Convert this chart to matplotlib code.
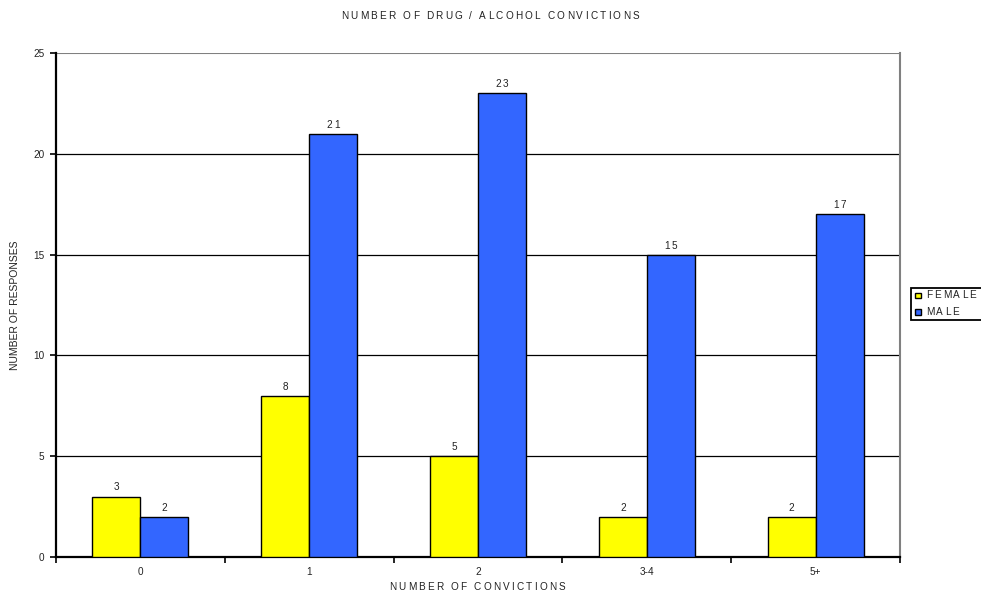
import numpy as np
import matplotlib
matplotlib.use("Agg")
import matplotlib.pyplot as plt
from matplotlib.patches import Rectangle
from matplotlib.font_manager import FontProperties, findfont, get_font

categories = ["0", "1", "2", "3-4", "5+"]
female = [3, 8, 5, 2, 2]
male = [2, 21, 23, 15, 17]
series_names = ["FEMALE", "MALE"]
colors = ["#FFFF00", "#3366FF"]

TITLE = "NUMBER OF DRUG / ALCOHOL CONVICTIONS"
XLABEL = "NUMBER OF CONVICTIONS"
YLABEL = "NUMBER OF RESPONSES"

W, H, DPI = 981, 599, 100
FS = 7.2
TRACK = 2.2  # extra letter spacing in px, the source chart is letter-spaced

plt.rcParams["font.family"] = ["Liberation Sans", "DejaVu Sans"]
fp = FontProperties(family="Liberation Sans", size=FS)
_font = get_font(findfont(fp))
_font.set_size(FS, DPI)


def advances(s):
    out = []
    for c in s:
        g = _font.load_char(ord(c))
        out.append(g.linearHoriAdvance / 65536)
    return out


def tracked(ax, xy, xycoords, s, ha="center", track=TRACK, color="black"):
    """Draw a string char by char with extra spacing (no letter-spacing in mpl)."""
    adv = advances(s)
    total = sum(adv) + track * (len(s) - 1)
    x0 = {"center": -total / 2, "left": 0.0, "right": -total}[ha]
    for c, a in zip(s, adv):
        if c != " ":
            ax.annotate(c, xy=xy, xycoords=xycoords, xytext=(x0 * 72 / DPI, 0),
                        textcoords="offset points", ha="left", va="baseline",
                        fontproperties=fp, color=color, annotation_clip=False)
        x0 += a + track


fig = plt.figure(figsize=(W / DPI, H / DPI), dpi=DPI)
ax = fig.add_axes([56 / W, 1 - 557 / H, (900 - 56) / W, (557 - 53) / H])

x = np.arange(len(categories))
w = 0.284
for vals, off, col, name in zip([female, male], [-w / 2, w / 2], colors, series_names):
    bars = ax.bar(x + off, vals, width=w, color=col, edgecolor="black", linewidth=1.0,
                  label=name, zorder=3)
    for b, v in zip(bars, vals):
        tracked(ax, (b.get_x() + b.get_width() / 2, v + 0.3), "data", str(v),
                track=1.5, color="#222222")

ax.set_xlim(-0.5, len(categories) - 0.5)
ax.set_ylim(0, 25)
ax.set_yticks(range(0, 26, 5))
ax.set_xticks(x)
ax.set_xticklabels(categories)
ax.set_xticks(np.arange(-0.5, len(categories) + 0.5, 1), minor=True)
ax.tick_params(axis="x", which="major", length=0, pad=7, labelsize=FS, labelcolor="#222222")
ax.tick_params(axis="x", which="minor", length=4, width=1.2, direction="out")
ax.tick_params(axis="y", length=4, width=1.2, direction="out", labelsize=FS, pad=4.5,
               labelcolor="#222222")

for yv in range(5, 25, 5):
    ax.axhline(yv, color="black", linewidth=0.9, zorder=1)
ax.axhline(25, color="#808080", linewidth=1.5, zorder=1)

ax.spines["left"].set_linewidth(1.6)
ax.spines["bottom"].set_linewidth(1.6)
ax.spines["top"].set_visible(False)
ax.spines["right"].set_color("#808080")
ax.spines["right"].set_linewidth(1.5)

# title and axis labels
tracked(ax, (490 / W, 1 - 19 / H), "figure fraction", TITLE, color="#222222")
tracked(ax, (477 / W, 1 - 590 / H), "figure fraction", XLABEL, color="#222222")
fig.text(15 / W, 1 - 305 / H, YLABEL, rotation=90, ha="center", va="center",
         fontsize=7.5, color="#222222")

# legend box, clipped by the right edge like the source
# zorder below the axes so the (axes-owned) legend text stays on top
fig.patches.append(Rectangle((911 / W, 1 - 320 / H), 75 / W, 32 / H, transform=fig.transFigure,
                             facecolor="white", edgecolor="black", linewidth=1.3, zorder=-2))
for i, (name, col) in enumerate(zip(series_names, colors)):
    yc = 295 + 16.5 * i
    fig.patches.append(Rectangle((915 / W, 1 - (yc + 3) / H), 5.5 / W, 5.5 / H,
                                 transform=fig.transFigure, facecolor=col,
                                 edgecolor="black", linewidth=1.0, zorder=-1))
    tracked(ax, (926 / W, 1 - (yc + 3.5) / H), "figure fraction", name, ha="left",
            track=2.0, color="#222222")

fig.savefig("out.png", dpi=DPI)
